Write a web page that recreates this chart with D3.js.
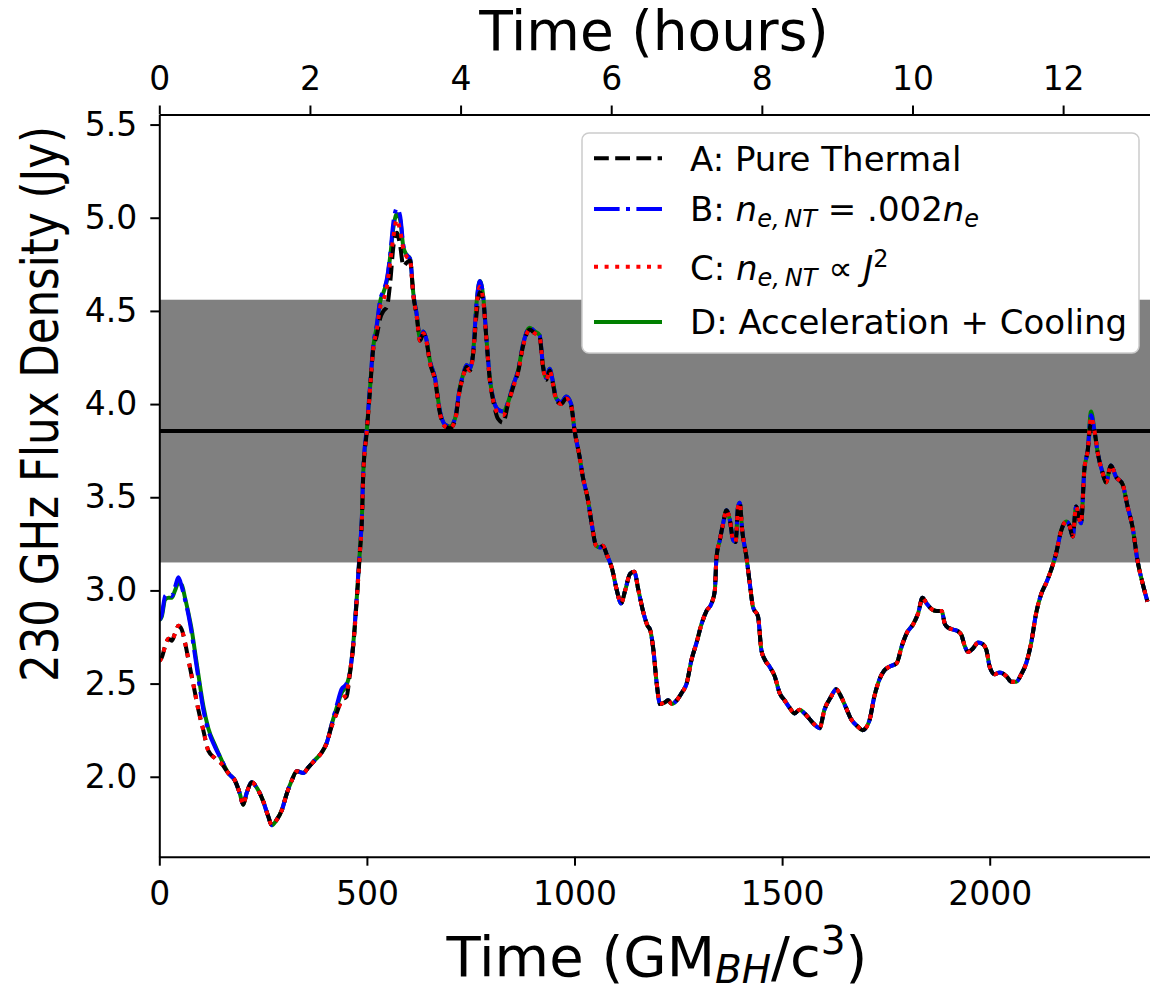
<!DOCTYPE html>
<html>
<head>
<meta charset="utf-8">
<script src="https://cdn.jsdelivr.net/npm/d3@7"></script>
<style>
  body { margin: 0; background: #fff; }
  svg { display: block; }
  text { font-family: "DejaVu Sans", sans-serif; fill: #000; }
</style>
</head>
<body>
<svg id="chart" width="1150" height="993"></svg>
<script>
// Simulation time in units of GM_BH/c^3
const timeM = [
  0, 6, 14, 22, 30, 38, 46, 54, 62, 70,
  78, 86, 94, 106, 118, 134, 150, 166, 182, 194,
  202, 210, 223, 235, 250, 262, 271, 283, 295, 307,
  319, 331, 347, 359, 375, 391, 403, 415, 427, 439,
  451, 459, 467, 475, 483, 488, 491, 500, 508, 515,
  524, 532, 540, 548, 556, 564, 572, 580, 588, 596,
  604, 612, 620, 628, 636, 644, 652, 664, 676, 688,
  700, 712, 724, 732, 740, 748, 756, 764, 772, 780,
  788, 796, 804, 816, 828, 840, 852, 864, 876, 892,
  904, 916, 924, 932, 940, 948, 956, 968, 980, 992,
  1000, 1012, 1020, 1032, 1042, 1052, 1062, 1068, 1078, 1090,
  1102, 1112, 1122, 1134, 1144, 1154, 1166, 1176, 1182, 1190,
  1198, 1206, 1218, 1226, 1234, 1246, 1258, 1270, 1282, 1294,
  1306, 1318, 1330, 1338, 1342, 1350, 1358, 1366, 1374, 1382,
  1388, 1394, 1398, 1404, 1414, 1422, 1430, 1442, 1450, 1458,
  1470, 1482, 1494, 1506, 1518, 1530, 1542, 1554, 1566, 1578,
  1590, 1602, 1618, 1630, 1642, 1654, 1666, 1682, 1694, 1710,
  1722, 1734, 1746, 1758, 1776, 1788, 1800, 1816, 1828, 1838,
  1848, 1860, 1872, 1884, 1892, 1900, 1912, 1924, 1932, 1940,
  1948, 1960, 1972, 1984, 1992, 2000, 2012, 2024, 2040, 2052,
  2064, 2076, 2088, 2100, 2112, 2124, 2136, 2148, 2160, 2172,
  2184, 2192, 2200, 2208, 2216, 2220, 2228, 2236, 2244, 2252,
  2260, 2272, 2280, 2292, 2304, 2320, 2332, 2344, 2356, 2368,
  2380
];

// A: pure thermal electrons (Jy)
const fluxThermal = [
  2.62, 2.64, 2.70, 2.74, 2.73, 2.77, 2.81, 2.79, 2.72, 2.63,
  2.54, 2.45, 2.36, 2.25, 2.14, 2.10, 2.07, 2.02, 1.98, 1.91,
  1.85, 1.91, 1.97, 1.94, 1.87, 1.79, 1.74, 1.77, 1.82, 1.91,
  1.98, 2.03, 2.02, 2.05, 2.09, 2.13, 2.18, 2.27, 2.34, 2.41,
  2.43, 2.55, 2.70, 2.93, 3.20, 3.38, 3.61, 3.86, 4.09, 4.29,
  4.37, 4.46, 4.50, 4.52, 4.65, 4.85, 4.92, 4.85, 4.74, 4.76,
  4.77, 4.58, 4.47, 4.34, 4.38, 4.33, 4.22, 4.13, 3.95, 3.88,
  3.87, 3.91, 4.08, 4.15, 4.20, 4.18, 4.27, 4.48, 4.60, 4.56,
  4.34, 4.13, 4.02, 3.92, 3.90, 4.00, 4.09, 4.17, 4.31, 4.40,
  4.38, 4.36, 4.20, 4.13, 4.18, 4.11, 4.02, 4.00, 4.03, 3.99,
  3.86, 3.72, 3.61, 3.49, 3.35, 3.24, 3.23, 3.24, 3.19, 3.12,
  3.00, 2.93, 3.00, 3.09, 3.10, 3.00, 2.88, 2.81, 2.79, 2.68,
  2.50, 2.39, 2.40, 2.41, 2.39, 2.41, 2.45, 2.50, 2.63, 2.72,
  2.82, 2.89, 2.93, 3.00, 3.18, 3.27, 3.36, 3.43, 3.38, 3.27,
  3.26, 3.45, 3.47, 3.32, 3.18, 3.04, 2.91, 2.86, 2.68, 2.63,
  2.59, 2.54, 2.45, 2.41, 2.37, 2.34, 2.36, 2.34, 2.31, 2.28,
  2.26, 2.36, 2.43, 2.47, 2.43, 2.37, 2.31, 2.27, 2.25, 2.30,
  2.43, 2.52, 2.57, 2.59, 2.61, 2.70, 2.77, 2.82, 2.88, 2.96,
  2.93, 2.90, 2.89, 2.89, 2.82, 2.80, 2.79, 2.78, 2.76, 2.70,
  2.67, 2.69, 2.72, 2.71, 2.68, 2.59, 2.55, 2.56, 2.54, 2.51,
  2.51, 2.55, 2.61, 2.72, 2.88, 2.98, 3.04, 3.11, 3.20, 3.32,
  3.37, 3.35, 3.29, 3.45, 3.38, 3.36, 3.65, 3.75, 3.90, 3.86,
  3.74, 3.63, 3.58, 3.67, 3.61, 3.57, 3.45, 3.34, 3.16, 3.04,
  2.94
];

// B: non-thermal density fixed at 0.2% of n_e (Jy)
const fluxFixedFraction = [
  2.84, 2.87, 2.97, 2.98, 2.97, 3.02, 3.07, 3.02, 2.95, 2.87,
  2.77, 2.65, 2.53, 2.36, 2.25, 2.16, 2.09, 2.02, 1.98, 1.91,
  1.85, 1.91, 1.97, 1.94, 1.87, 1.79, 1.74, 1.77, 1.82, 1.91,
  1.98, 2.03, 2.02, 2.05, 2.09, 2.13, 2.18, 2.28, 2.38, 2.47,
  2.50, 2.56, 2.71, 2.95, 3.22, 3.40, 3.63, 3.88, 4.11, 4.31,
  4.43, 4.56, 4.61, 4.67, 4.80, 4.98, 5.05, 5.01, 4.85, 4.80,
  4.78, 4.59, 4.48, 4.35, 4.39, 4.34, 4.23, 4.14, 3.96, 3.89,
  3.88, 3.92, 4.09, 4.16, 4.21, 4.19, 4.28, 4.54, 4.66, 4.58,
  4.35, 4.14, 4.03, 3.97, 3.96, 4.01, 4.10, 4.18, 4.32, 4.41,
  4.39, 4.37, 4.21, 4.14, 4.19, 4.12, 4.03, 4.01, 4.04, 4.00,
  3.86, 3.72, 3.61, 3.49, 3.35, 3.24, 3.23, 3.24, 3.19, 3.12,
  3.00, 2.93, 3.00, 3.09, 3.10, 3.00, 2.88, 2.81, 2.79, 2.68,
  2.50, 2.39, 2.40, 2.41, 2.39, 2.41, 2.45, 2.50, 2.63, 2.72,
  2.82, 2.89, 2.93, 3.00, 3.18, 3.27, 3.36, 3.43, 3.38, 3.27,
  3.26, 3.45, 3.47, 3.32, 3.18, 3.04, 2.91, 2.86, 2.68, 2.63,
  2.59, 2.54, 2.45, 2.41, 2.37, 2.34, 2.36, 2.34, 2.31, 2.28,
  2.26, 2.36, 2.43, 2.47, 2.43, 2.37, 2.31, 2.27, 2.25, 2.30,
  2.43, 2.52, 2.57, 2.59, 2.61, 2.70, 2.77, 2.82, 2.88, 2.96,
  2.93, 2.90, 2.89, 2.89, 2.82, 2.80, 2.79, 2.78, 2.76, 2.70,
  2.67, 2.69, 2.72, 2.71, 2.68, 2.59, 2.55, 2.56, 2.54, 2.51,
  2.51, 2.55, 2.61, 2.72, 2.88, 2.98, 3.04, 3.11, 3.20, 3.32,
  3.37, 3.35, 3.29, 3.45, 3.38, 3.36, 3.65, 3.75, 3.94, 3.86,
  3.74, 3.63, 3.58, 3.67, 3.61, 3.57, 3.45, 3.34, 3.16, 3.04,
  2.94
];

// C: non-thermal density scaling with J^2 (Jy)
const fluxCurrentSq = [
  2.62, 2.64, 2.70, 2.74, 2.73, 2.77, 2.81, 2.79, 2.72, 2.63,
  2.54, 2.45, 2.36, 2.25, 2.14, 2.10, 2.07, 2.02, 1.98, 1.91,
  1.85, 1.91, 1.97, 1.94, 1.87, 1.79, 1.74, 1.77, 1.82, 1.91,
  1.98, 2.03, 2.02, 2.05, 2.09, 2.13, 2.18, 2.27, 2.34, 2.41,
  2.45, 2.56, 2.70, 2.93, 3.20, 3.38, 3.61, 3.86, 4.09, 4.29,
  4.40, 4.52, 4.56, 4.63, 4.76, 4.90, 4.99, 4.93, 4.83, 4.79,
  4.77, 4.58, 4.47, 4.34, 4.38, 4.33, 4.22, 4.13, 3.95, 3.88,
  3.87, 3.91, 4.08, 4.15, 4.20, 4.18, 4.27, 4.52, 4.63, 4.56,
  4.34, 4.13, 4.02, 3.95, 3.94, 4.00, 4.09, 4.17, 4.31, 4.40,
  4.38, 4.36, 4.20, 4.13, 4.18, 4.11, 4.02, 4.00, 4.03, 3.99,
  3.86, 3.72, 3.61, 3.49, 3.35, 3.24, 3.23, 3.24, 3.19, 3.12,
  3.00, 2.93, 3.00, 3.09, 3.10, 3.00, 2.88, 2.81, 2.79, 2.68,
  2.50, 2.39, 2.40, 2.41, 2.39, 2.41, 2.45, 2.50, 2.63, 2.72,
  2.82, 2.89, 2.93, 3.00, 3.18, 3.27, 3.36, 3.43, 3.38, 3.27,
  3.26, 3.45, 3.47, 3.32, 3.18, 3.04, 2.91, 2.86, 2.68, 2.63,
  2.59, 2.54, 2.45, 2.41, 2.37, 2.34, 2.36, 2.34, 2.31, 2.28,
  2.26, 2.36, 2.43, 2.47, 2.43, 2.37, 2.31, 2.27, 2.25, 2.30,
  2.43, 2.52, 2.57, 2.59, 2.61, 2.70, 2.77, 2.82, 2.88, 2.96,
  2.93, 2.90, 2.89, 2.89, 2.82, 2.80, 2.79, 2.78, 2.76, 2.70,
  2.67, 2.69, 2.72, 2.71, 2.68, 2.59, 2.55, 2.56, 2.54, 2.51,
  2.51, 2.55, 2.61, 2.72, 2.88, 2.98, 3.04, 3.11, 3.20, 3.32,
  3.37, 3.35, 3.29, 3.45, 3.38, 3.36, 3.65, 3.75, 3.93, 3.86,
  3.74, 3.63, 3.58, 3.67, 3.61, 3.57, 3.45, 3.34, 3.16, 3.04,
  2.94
];

// D: particle acceleration with radiative cooling (Jy)
const fluxAccelCooling = [
  2.84, 2.86, 2.95, 2.96, 2.96, 3.00, 3.04, 3.03, 2.96, 2.88,
  2.79, 2.67, 2.55, 2.38, 2.26, 2.17, 2.09, 2.02, 1.98, 1.91,
  1.85, 1.91, 1.97, 1.94, 1.87, 1.79, 1.74, 1.77, 1.82, 1.91,
  1.98, 2.03, 2.02, 2.05, 2.09, 2.13, 2.18, 2.28, 2.37, 2.45,
  2.49, 2.56, 2.71, 2.94, 3.21, 3.39, 3.62, 3.87, 4.10, 4.30,
  4.42, 4.55, 4.60, 4.66, 4.79, 4.95, 5.02, 4.99, 4.84, 4.80,
  4.78, 4.59, 4.48, 4.35, 4.39, 4.34, 4.23, 4.14, 3.96, 3.89,
  3.88, 3.92, 4.09, 4.16, 4.21, 4.19, 4.28, 4.54, 4.66, 4.58,
  4.35, 4.14, 4.03, 3.97, 3.96, 4.01, 4.10, 4.18, 4.32, 4.41,
  4.39, 4.37, 4.21, 4.14, 4.19, 4.12, 4.03, 4.01, 4.04, 4.00,
  3.86, 3.72, 3.61, 3.49, 3.35, 3.24, 3.23, 3.24, 3.19, 3.12,
  3.00, 2.93, 3.00, 3.09, 3.10, 3.00, 2.88, 2.81, 2.79, 2.68,
  2.50, 2.39, 2.40, 2.41, 2.39, 2.41, 2.45, 2.50, 2.63, 2.72,
  2.82, 2.89, 2.93, 3.00, 3.18, 3.27, 3.36, 3.43, 3.38, 3.27,
  3.26, 3.45, 3.47, 3.32, 3.18, 3.04, 2.91, 2.86, 2.68, 2.63,
  2.59, 2.54, 2.45, 2.41, 2.37, 2.34, 2.36, 2.34, 2.31, 2.28,
  2.26, 2.36, 2.43, 2.47, 2.43, 2.37, 2.31, 2.27, 2.25, 2.30,
  2.43, 2.52, 2.57, 2.59, 2.61, 2.70, 2.77, 2.82, 2.88, 2.96,
  2.93, 2.90, 2.89, 2.89, 2.82, 2.80, 2.79, 2.78, 2.76, 2.70,
  2.67, 2.69, 2.72, 2.71, 2.68, 2.59, 2.55, 2.56, 2.54, 2.51,
  2.51, 2.55, 2.61, 2.72, 2.88, 2.98, 3.04, 3.11, 3.20, 3.32,
  3.37, 3.35, 3.29, 3.45, 3.38, 3.36, 3.65, 3.75, 3.96, 3.86,
  3.74, 3.63, 3.58, 3.67, 3.61, 3.57, 3.45, 3.34, 3.16, 3.04,
  2.94
];

// Observed 230 GHz mean and 1-sigma range (Jy)
const observedMean = 3.855;
const observedLow = 3.15;
const observedHigh = 4.56;

const xTickValues = [0, 500, 1000, 1500, 2000];
const hourTickValues = [0, 2, 4, 6, 8, 10, 12];
const yTickValues = [2.0, 2.5, 3.0, 3.5, 4.0, 4.5, 5.0, 5.5];
const unitsPerHour = 181.4;   // GM_BH/c^3 per hour for Sgr A*

const seriesLabels = ["A", "B", "C", "D"];

// ---- layout ----
const plotLeft = 159.3, plotRight = 1155.8, plotTop = 114.5, plotBottom = 856.7;
const xDomain = [0, 2400];

const svg = d3.select("#chart");

const x = d3.scaleLinear().domain(xDomain).range([plotLeft, plotRight]);
const xHours = d3.scaleLinear().domain([xDomain[0] / unitsPerHour, xDomain[1] / unitsPerHour]).range([plotLeft, plotRight]);
const y = d3.scaleLinear().domain([1.571, 5.554]).range([plotBottom, plotTop]);

svg.append("defs").append("clipPath").attr("id", "plotClip")
  .append("rect")
  .attr("x", plotLeft).attr("y", plotTop)
  .attr("width", plotRight - plotLeft).attr("height", plotBottom - plotTop);

const plot = svg.append("g").attr("clip-path", "url(#plotClip)");

// observed range band and mean
plot.append("rect")
  .attr("x", x(xDomain[0])).attr("width", x(xDomain[1]) - x(xDomain[0]))
  .attr("y", y(observedHigh)).attr("height", y(observedLow) - y(observedHigh))
  .attr("fill", "#808080");

plot.append("line")
  .attr("x1", x(xDomain[0])).attr("x2", x(xDomain[1]))
  .attr("y1", y(observedMean)).attr("y2", y(observedMean))
  .attr("stroke", "#000").attr("stroke-width", 4);

// light curves
const styles = {
  A: { values: fluxThermal, color: "#000000", dash: "14.8,6.4" },
  B: { values: fluxFixedFraction, color: "#0000ff", dash: "25.6,6.4,4,6.4" },
  C: { values: fluxCurrentSq, color: "#ff0000", dash: "4,6.6" },
  D: { values: fluxAccelCooling, color: "#008000", dash: null }
};

const line = d3.line()
  .x(d => x(d[0]))
  .y(d => y(d[1]))
  .curve(d3.curveMonotoneX);

["D", "B", "A", "C"].forEach(key => {
  const s = styles[key];
  const pts = timeM.map((t, i) => [t, s.values[i]]);
  plot.append("path")
    .attr("d", line(pts))
    .attr("fill", "none")
    .attr("stroke", s.color)
    .attr("stroke-width", 4)
    .attr("stroke-linejoin", "round")
    .attr("stroke-linecap", "butt")
    .attr("stroke-dasharray", s.dash);
});

// ---- axes ----
const tickFont = 33;

function styleAxis(g) {
  g.select(".domain").attr("stroke", "#000").attr("stroke-width", 2);
  g.selectAll(".tick line").attr("stroke", "#000").attr("stroke-width", 2);
  g.selectAll(".tick text").attr("font-size", tickFont).attr("font-family", "DejaVu Sans").attr("fill", "#000");
}

svg.append("g")
  .attr("transform", `translate(0,${plotBottom})`)
  .call(d3.axisBottom(x).tickValues(xTickValues).tickFormat(d3.format("d")).tickSize(9).tickSizeOuter(0).tickPadding(16))
  .call(styleAxis);

svg.append("g")
  .attr("transform", `translate(0,${plotTop})`)
  .call(d3.axisTop(xHours).tickValues(hourTickValues).tickFormat(d3.format("d")).tickSize(9).tickSizeOuter(0).tickPadding(16))
  .call(styleAxis);

svg.append("g")
  .attr("transform", `translate(${plotLeft},0)`)
  .call(d3.axisLeft(y).tickValues(yTickValues).tickFormat(d3.format(".1f")).tickSize(9).tickSizeOuter(0).tickPadding(13))
  .call(styleAxis);

// axis titles
svg.append("text")
  .attr("x", 654).attr("y", 50)
  .attr("text-anchor", "middle").attr("font-size", 55)
  .text("Time (hours)");

const xTitle = svg.append("text")
  .attr("x", 657).attr("y", 976)
  .attr("text-anchor", "middle").attr("font-size", 56);
xTitle.append("tspan").text("Time (GM");
xTitle.append("tspan").attr("font-size", 39).attr("font-style", "italic").attr("dy", 7).text("BH");
xTitle.append("tspan").attr("dy", -7).text("/c");
xTitle.append("tspan").attr("font-size", 39).attr("dy", -22).text("3");
xTitle.append("tspan").attr("dy", 22).text(")");

svg.append("text")
  .attr("transform", "translate(58,404) rotate(-90)")
  .attr("text-anchor", "middle").attr("font-size", 52)
  .attr("textLength", 556).attr("lengthAdjust", "spacingAndGlyphs")
  .text("230 GHz Flux Density (Jy)");

// ---- legend ----
const legend = svg.append("g");
legend.append("rect")
  .attr("x", 582).attr("y", 133).attr("width", 557).attr("height", 220)
  .attr("rx", 7).attr("fill", "#fff").attr("stroke", "#cccccc").attr("stroke-width", 1.5);

const legendFont = 34;
const subFont = 24;
const textX = 690;
const rowHandleY = { A: 158.3, B: 209, C: 266.7, D: 322 };
const rowTextY = { A: 170.5, B: 221, C: 280, D: 334 };

seriesLabels.forEach(key => {
  const s = styles[key];
  legend.append("line")
    .attr("x1", 594).attr("x2", 662)
    .attr("y1", rowHandleY[key]).attr("y2", rowHandleY[key])
    .attr("stroke", s.color).attr("stroke-width", 4)
    .attr("stroke-dasharray", s.dash);
});

const tA = legend.append("text").attr("x", textX).attr("y", rowTextY.A).attr("font-size", legendFont);
tA.text("A: Pure Thermal");

const tB = legend.append("text").attr("x", textX).attr("y", rowTextY.B).attr("font-size", legendFont);
tB.append("tspan").text("B: ");
tB.append("tspan").attr("font-style", "italic").text("n");
tB.append("tspan").attr("font-style", "italic").attr("font-size", subFont).attr("dy", 6).text("e,\u2009NT");
tB.append("tspan").attr("dy", -6).text(" = .002");
tB.append("tspan").attr("font-style", "italic").text("n");
tB.append("tspan").attr("font-style", "italic").attr("font-size", subFont).attr("dy", 6).text("e");

const tC = legend.append("text").attr("x", textX).attr("y", rowTextY.C).attr("font-size", legendFont);
tC.append("tspan").text("C: ");
tC.append("tspan").attr("font-style", "italic").text("n");
tC.append("tspan").attr("font-style", "italic").attr("font-size", subFont).attr("dy", 6).text("e,\u2009NT");
tC.append("tspan").attr("dy", -6).text(" \u221D ");
tC.append("tspan").attr("font-style", "italic").text("J");
tC.append("tspan").attr("font-size", subFont).attr("dy", -13).text("2");

const tD = legend.append("text").attr("x", textX).attr("y", rowTextY.D).attr("font-size", legendFont);
tD.text("D: Acceleration + Cooling");
</script>
</body>
</html>
